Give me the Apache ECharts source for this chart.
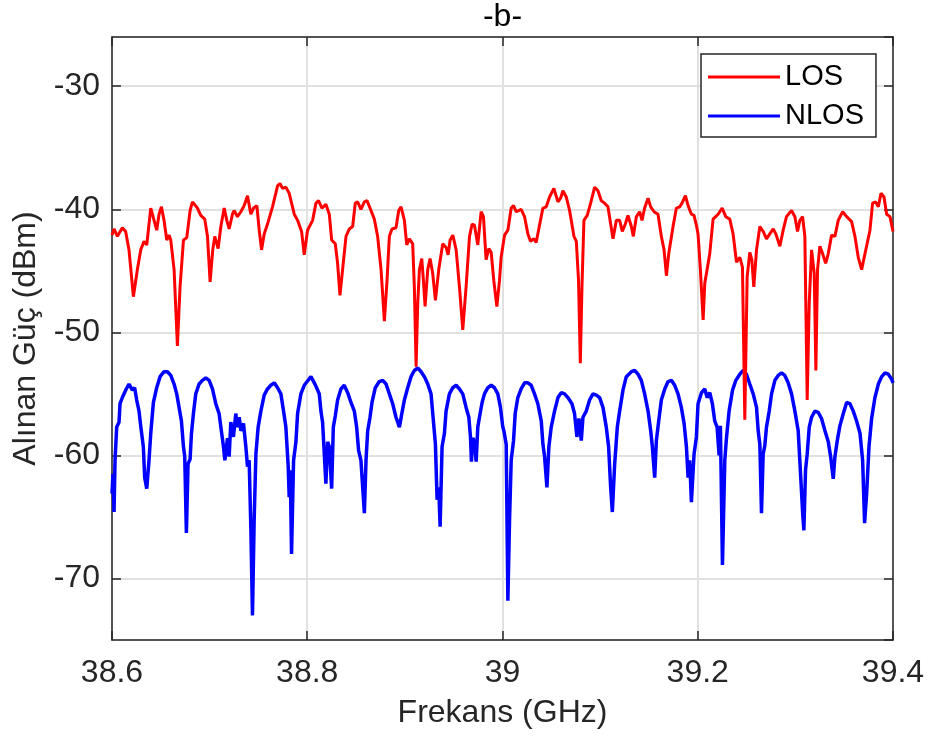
<!DOCTYPE html>
<html>
<head>
<meta charset="utf-8">
<script src="https://cdn.jsdelivr.net/npm/echarts@6/dist/echarts.min.js"></script>
<style>
html,body{margin:0;padding:0;background:#fff;}
#chart{width:932px;height:742px;}
</style>
</head>
<body>
<div id="chart"></div>
<script>
// ---- data ----
const seriesNames = ['LOS', 'NLOS'];
const xTickLabels = ['38.6', '38.8', '39', '39.2', '39.4'];
const yTickLabels = ['-70', '-60', '-50', '-40', '-30'];

const losFreq = [
38.6000,38.6021,38.6055,38.6106,38.6140,38.6174,38.6219,38.6260,38.6294,38.6328,38.6356,38.6397,38.6431,38.6458,38.6482,38.6506,38.6533,38.6561,38.6585,38.6602,
38.6636,38.6670,38.6697,38.6732,38.6766,38.6800,38.6824,38.6875,38.6909,38.6950,38.6978,38.7005,38.7032,38.7053,38.7087,38.7115,38.7149,38.7176,38.7200,38.7234,
38.7251,38.7285,38.7320,38.7354,38.7388,38.7422,38.7450,38.7484,38.7508,38.7532,38.7559,38.7593,38.7644,38.7696,38.7720,38.7747,38.7781,38.7815,38.7867,38.7901,
38.7942,38.7969,38.8003,38.8055,38.8089,38.8116,38.8150,38.8191,38.8226,38.8250,38.8287,38.8311,38.8335,38.8362,38.8397,38.8431,38.8465,38.8492,38.8516,38.8550,
38.8585,38.8612,38.8653,38.8687,38.8721,38.8756,38.8790,38.8817,38.8841,38.8868,38.8909,38.8937,38.8961,38.8995,38.9019,38.9046,38.9080,38.9097,38.9115,38.9132,
38.9149,38.9173,38.9190,38.9207,38.9234,38.9258,38.9285,38.9313,38.9347,38.9388,38.9422,38.9443,38.9463,38.9491,38.9525,38.9559,38.9593,38.9627,38.9662,38.9689,
38.9713,38.9747,38.9781,38.9805,38.9832,38.9860,38.9884,38.9911,38.9942,38.9969,38.9986,39.0021,39.0055,39.0089,39.0113,39.0140,39.0191,39.0226,39.0260,39.0287,
39.0321,39.0345,39.0379,39.0414,39.0448,39.0482,39.0526,39.0568,39.0595,39.0619,39.0653,39.0687,39.0732,39.0756,39.0779,39.0797,39.0814,39.0834,39.0868,39.0903,
39.0944,39.0978,39.1012,39.1046,39.1080,39.1108,39.1132,39.1166,39.1200,39.1227,39.1258,39.1285,39.1320,39.1340,39.1371,39.1405,39.1429,39.1456,39.1491,39.1518,
39.1552,39.1593,39.1627,39.1655,39.1679,39.1703,39.1747,39.1781,39.1815,39.1839,39.1874,39.1901,39.1935,39.1962,39.1986,39.2003,39.2027,39.2055,39.2072,39.2096,
39.2123,39.2157,39.2209,39.2250,39.2287,39.2328,39.2362,39.2397,39.2431,39.2458,39.2482,39.2506,39.2533,39.2554,39.2574,39.2602,39.2636,39.2670,39.2704,39.2738,
39.2773,39.2800,39.2841,39.2875,39.2909,39.2961,39.2995,39.3022,39.3046,39.3074,39.3097,39.3121,39.3142,39.3166,39.3193,39.3210,39.3227,39.3251,39.3279,39.3310,
39.3337,39.3371,39.3405,39.3439,39.3484,39.3525,39.3576,39.3610,39.3644,39.3679,39.3713,39.3764,39.3791,39.3822,39.3850,39.3877,39.3908,39.3935,39.3969,39.4000
];
const losPower = [
-42.1,-41.6,-42.2,-41.5,-41.8,-43.3,-47.1,-44.9,-43.3,-42.6,-42.9,-39.9,-40.9,-41.7,-40.4,-39.8,-40.9,-42.5,-42.1,-42.5,
-44.9,-51.1,-46.3,-42.5,-42.3,-40.1,-39.4,-39.9,-40.5,-40.8,-42.2,-45.9,-43.3,-42.2,-43.2,-41.4,-39.9,-40.9,-41.6,-40.4,
-40.1,-40.6,-40.2,-39.7,-38.9,-40.4,-39.9,-39.7,-41.7,-43.3,-42.0,-41.2,-39.8,-38.1,-37.9,-38.3,-38.2,-38.7,-40.4,-40.9,
-41.8,-43.7,-41.7,-40.9,-39.5,-39.3,-39.9,-39.6,-40.4,-42.5,-42.8,-44.4,-47.0,-44.9,-42.2,-41.6,-41.4,-39.5,-39.4,-40.0,
-39.4,-39.3,-40.1,-40.8,-42.2,-44.9,-49.1,-45.8,-42.2,-41.6,-41.5,-40.1,-39.8,-40.9,-42.9,-42.4,-42.8,-46.3,-52.8,-47.6,
-44.9,-44.0,-45.8,-47.9,-44.9,-44.0,-45.2,-47.4,-44.9,-42.8,-43.1,-43.7,-42.5,-42.1,-43.3,-46.3,-49.8,-46.3,-42.2,-41.2,
-41.3,-42.9,-40.2,-40.6,-44.1,-43.2,-43.5,-45.8,-47.9,-45.8,-43.9,-42.1,-41.7,-39.9,-39.7,-40.2,-40.0,-40.6,-42.0,-42.6,
-42.4,-42.7,-41.3,-39.9,-39.8,-39.0,-38.3,-39.4,-39.1,-38.5,-39.0,-40.1,-42.2,-42.6,-45.8,-52.5,-46.3,-40.9,-40.5,-39.5,
-38.2,-38.5,-39.3,-39.5,-39.8,-41.2,-42.4,-40.9,-40.9,-41.8,-41.2,-40.5,-41.4,-42.2,-40.6,-40.2,-40.9,-39.9,-39.1,-39.8,
-40.2,-40.4,-42.2,-43.3,-45.4,-43.6,-41.4,-39.9,-39.8,-39.5,-38.9,-39.7,-40.4,-40.5,-41.3,-42.0,-44.9,-49.0,-46.0,-44.9,
-43.6,-40.8,-40.4,-39.9,-40.6,-40.8,-42.0,-44.3,-43.9,-44.7,-57.1,-45.5,-43.5,-44.1,-46.3,-43.3,-41.4,-41.8,-42.4,-42.0,
-41.6,-42.0,-43.0,-41.7,-40.6,-40.1,-40.6,-41.8,-40.9,-40.6,-42.2,-55.5,-47.6,-43.3,-45.2,-53.1,-44.9,-43.0,-43.6,-44.4,
-43.6,-42.1,-42.2,-40.9,-40.2,-40.6,-41.0,-42.2,-43.9,-44.9,-43.6,-41.7,-39.5,-39.4,-39.8,-38.7,-39.0,-40.4,-40.6,-41.8
];

const nlosFreq = [
38.6000,38.6010,38.6021,38.6031,38.6048,38.6072,38.6082,38.6106,38.6140,38.6174,38.6209,38.6232,38.6253,38.6277,38.6294,38.6321,38.6335,38.6356,38.6379,38.6397,
38.6424,38.6458,38.6492,38.6533,38.6568,38.6602,38.6636,38.6663,38.6687,38.6711,38.6732,38.6745,38.6762,38.6779,38.6800,38.6814,38.6834,38.6858,38.6892,38.6926,
38.6961,38.6995,38.7029,38.7063,38.7097,38.7115,38.7142,38.7156,38.7183,38.7200,38.7217,38.7244,38.7268,38.7285,38.7303,38.7320,38.7347,38.7371,38.7388,38.7405,
38.7422,38.7439,38.7456,38.7474,38.7497,38.7525,38.7559,38.7593,38.7627,38.7662,38.7696,38.7730,38.7757,38.7781,38.7805,38.7815,38.7826,38.7839,38.7860,38.7884,
38.7901,38.7935,38.7969,38.7986,38.8038,38.8072,38.8096,38.8123,38.8140,38.8157,38.8174,38.8191,38.8209,38.8226,38.8250,38.8267,38.8287,38.8311,38.8345,38.8379,
38.8414,38.8448,38.8482,38.8506,38.8526,38.8550,38.8568,38.8585,38.8602,38.8619,38.8643,38.8663,38.8697,38.8738,38.8773,38.8807,38.8841,38.8875,38.8909,38.8944,
38.8971,38.8995,38.9029,38.9063,38.9097,38.9132,38.9166,38.9200,38.9234,38.9268,38.9292,38.9313,38.9330,38.9347,38.9361,38.9381,38.9405,38.9422,38.9456,38.9491,
38.9525,38.9559,38.9593,38.9627,38.9655,38.9672,38.9682,38.9696,38.9713,38.9730,38.9747,38.9764,38.9791,38.9815,38.9850,38.9884,38.9918,38.9952,38.9979,39.0003,
39.0014,39.0038,39.0055,39.0072,39.0089,39.0113,39.0130,39.0157,39.0191,39.0226,39.0260,39.0294,39.0328,39.0362,39.0397,39.0414,39.0431,39.0455,39.0475,39.0499,
39.0533,39.0568,39.0602,39.0636,39.0670,39.0711,39.0738,39.0762,39.0783,39.0807,39.0824,39.0858,39.0892,39.0926,39.0961,39.0995,39.1029,39.1063,39.1087,39.1108,
39.1125,39.1149,39.1176,39.1200,39.1234,39.1268,39.1320,39.1354,39.1388,39.1422,39.1456,39.1491,39.1518,39.1535,39.1559,39.1576,39.1600,39.1627,39.1662,39.1696,
39.1730,39.1764,39.1798,39.1832,39.1860,39.1884,39.1901,39.1918,39.1935,39.1962,39.1986,39.2003,39.2038,39.2072,39.2096,39.2123,39.2150,39.2174,39.2198,39.2219,
39.2232,39.2253,39.2277,39.2294,39.2321,39.2356,39.2390,39.2431,39.2465,39.2499,39.2533,39.2568,39.2602,39.2619,39.2636,39.2653,39.2670,39.2687,39.2704,39.2732,
39.2756,39.2790,39.2824,39.2858,39.2892,39.2926,39.2961,39.2995,39.3029,39.3053,39.3074,39.3087,39.3104,39.3121,39.3142,39.3166,39.3200,39.3234,39.3268,39.3303,
39.3337,39.3361,39.3388,39.3405,39.3429,39.3456,39.3491,39.3525,39.3559,39.3593,39.3627,39.3662,39.3689,39.3709,39.3730,39.3754,39.3781,39.3815,39.3850,39.3884,
39.3918,39.3952,39.3986,39.4000
];
const nlosPower = [
-63.1,-61.5,-64.6,-60.4,-57.7,-57.3,-55.8,-55.3,-54.7,-54.2,-54.7,-54.5,-55.5,-56.4,-57.6,-59.3,-61.8,-62.7,-60.4,-58.2,
-55.7,-54.5,-53.6,-53.2,-53.2,-53.5,-54.2,-55.0,-56.1,-57.2,-59.3,-60.1,-66.3,-60.7,-60.3,-58.2,-56.6,-55.0,-54.2,-53.9,
-53.7,-53.9,-54.6,-55.8,-56.6,-57.7,-59.3,-60.4,-58.6,-60.1,-57.3,-58.5,-56.6,-57.7,-56.9,-58.0,-57.4,-59.3,-60.9,-60.4,
-65.8,-73.0,-65.3,-59.9,-57.7,-56.4,-55.1,-54.6,-54.3,-54.1,-54.5,-55.0,-56.4,-57.7,-60.9,-63.4,-61.2,-68.0,-60.4,-58.9,
-56.6,-55.0,-54.3,-54.2,-53.6,-54.1,-54.5,-55.0,-56.4,-57.3,-57.4,-62.3,-58.9,-59.3,-62.7,-57.7,-56.8,-55.5,-54.6,-54.3,
-54.9,-55.7,-56.4,-57.7,-59.6,-60.4,-62.6,-64.7,-60.4,-58.0,-56.9,-55.7,-54.5,-54.0,-53.9,-54.2,-55.0,-55.8,-56.9,-57.7,
-56.5,-55.5,-54.5,-53.6,-53.1,-52.9,-53.2,-53.6,-54.2,-55.0,-57.2,-59.1,-63.6,-62.6,-65.8,-59.3,-58.2,-56.4,-55.0,-54.5,
-54.3,-54.6,-55.0,-56.1,-56.9,-58.5,-60.5,-58.6,-58.8,-60.5,-57.7,-56.9,-55.7,-55.0,-54.5,-54.3,-54.5,-55.0,-56.1,-57.7,
-58.0,-59.1,-71.8,-65.3,-60.4,-58.8,-56.6,-55.3,-54.6,-54.1,-54.1,-54.3,-55.0,-55.8,-57.2,-59.1,-60.1,-62.6,-59.3,-57.7,
-56.4,-55.3,-54.9,-55.0,-55.3,-55.8,-56.6,-58.5,-57.0,-58.8,-56.9,-56.4,-55.5,-55.0,-55.1,-55.3,-56.1,-57.7,-59.3,-62.6,
-64.6,-60.7,-57.7,-56.4,-54.7,-53.6,-53.2,-53.1,-53.4,-53.9,-55.0,-56.4,-58.0,-59.3,-61.8,-58.8,-57.2,-55.5,-54.6,-54.0,
-53.9,-54.3,-55.0,-56.1,-57.4,-59.3,-61.8,-60.4,-63.8,-59.9,-58.5,-55.8,-54.9,-54.6,-55.3,-54.9,-55.8,-57.2,-57.7,-60.0,
-57.6,-68.9,-60.4,-58.6,-56.4,-54.7,-53.9,-53.4,-53.1,-53.4,-54.2,-55.0,-56.1,-58.0,-59.1,-64.7,-59.9,-59.2,-57.7,-56.4,
-55.0,-53.9,-53.5,-53.3,-53.5,-54.1,-55.0,-56.4,-58.0,-61.5,-64.6,-66.1,-61.2,-59.9,-57.7,-56.9,-56.4,-56.5,-57.0,-58.0,
-58.9,-60.1,-61.9,-60.1,-58.8,-57.6,-56.6,-55.7,-55.8,-56.4,-57.2,-58.2,-60.4,-65.5,-63.1,-59.3,-57.0,-55.3,-54.2,-53.6,
-53.3,-53.4,-53.8,-54.1
];

// ---- chart ----
const FONT = '"Liberation Sans", Arial, Helvetica, sans-serif';
const TXT = '#262626';
const zip = (xs, ys) => xs.map((x, i) => [x, ys[i]]);

const chart = echarts.init(document.getElementById('chart'), null, {renderer: 'canvas'});

const xMin = Number(xTickLabels[0]), xMax = Number(xTickLabels[xTickLabels.length - 1]);
const yMin = -75, yMax = -26;

const boxAxisCommon = {
  axisLine: {show: true, onZero: false, lineStyle: {color: TXT, width: 1.5}},
  axisTick: {show: true, inside: true, length: 9, lineStyle: {color: TXT, width: 1.5}},
};

chart.setOption({
  animation: false,
  backgroundColor: '#ffffff',
  textStyle: {fontFamily: FONT},
  title: {
    text: '-b-',
    left: 502.5,
    top: 1,
    padding: 0,
    textAlign: 'center',
    textStyle: {fontFamily: FONT, fontSize: 32, fontWeight: 'normal', color: '#000', lineHeight: 32}
  },
  legend: {
    show: true,
    data: seriesNames,
    orient: 'vertical',
    left: 701,
    top: 54,
    padding: [5, 12, 3, 7],
    itemGap: 3,
    itemWidth: 72,
    itemHeight: 3,
    icon: 'rect',
    itemTextGap: 6,
    textStyle: {fontFamily: FONT, fontSize: 29, color: '#000', lineHeight: 36},
    borderColor: TXT,
    borderWidth: 1.5,
    backgroundColor: '#ffffff'
  },
  grid: {left: 112, right: 39, top: 37, bottom: 102},
  xAxis: [
    Object.assign({
      type: 'value', position: 'bottom', min: xMin, max: xMax, interval: 0.2,
      name: 'Frekans (GHz)', nameLocation: 'middle', nameGap: 57,
      nameTextStyle: {fontFamily: FONT, fontSize: 32, color: TXT},
      axisLabel: {
        margin: 17, fontFamily: FONT, fontSize: 32, color: TXT,
        formatter: v => { const s = String(Math.round(v * 10) / 10); return xTickLabels.includes(s) ? s : ''; }
      },
      splitLine: {show: true, lineStyle: {color: '#e1e1e1', width: 2}}
    }, boxAxisCommon),
    Object.assign({
      type: 'value', position: 'top', min: xMin, max: xMax, interval: 0.2,
      axisLabel: {show: false}, splitLine: {show: false}
    }, boxAxisCommon)
  ],
  yAxis: [
    Object.assign({
      type: 'value', position: 'left', min: yMin, max: yMax, splitNumber: 5,
      name: 'Alınan Güç (dBm)', nameLocation: 'middle', nameGap: 70, nameRotate: 90,
      nameTextStyle: {fontFamily: FONT, fontSize: 32, color: TXT},
      axisLabel: {
        margin: 12, fontFamily: FONT, fontSize: 32, color: TXT,
        showMinLabel: false, showMaxLabel: false,
        formatter: v => { const s = String(Math.round(v)); return yTickLabels.includes(s) ? s : ''; }
      },
      splitLine: {show: true, lineStyle: {color: '#e1e1e1', width: 2}}
    }, boxAxisCommon),
    Object.assign({
      type: 'value', position: 'right', min: yMin, max: yMax, splitNumber: 5,
      axisLabel: {show: false}, splitLine: {show: false}
    }, boxAxisCommon)
  ],
  series: [
    {
      name: 'LOS', type: 'line', xAxisIndex: 0, yAxisIndex: 0,
      data: zip(losFreq, losPower),
      showSymbol: false, symbol: 'none', z: 4,
      lineStyle: {color: '#ff0000', width: 3}, itemStyle: {color: '#ff0000'}
    },
    {
      name: 'NLOS', type: 'line', xAxisIndex: 0, yAxisIndex: 0,
      data: zip(nlosFreq, nlosPower),
      showSymbol: false, symbol: 'none', z: 3,
      lineStyle: {color: '#0000ff', width: 3.5}, itemStyle: {color: '#0000ff'}
    }
  ]
});
</script>
</body>
</html>
